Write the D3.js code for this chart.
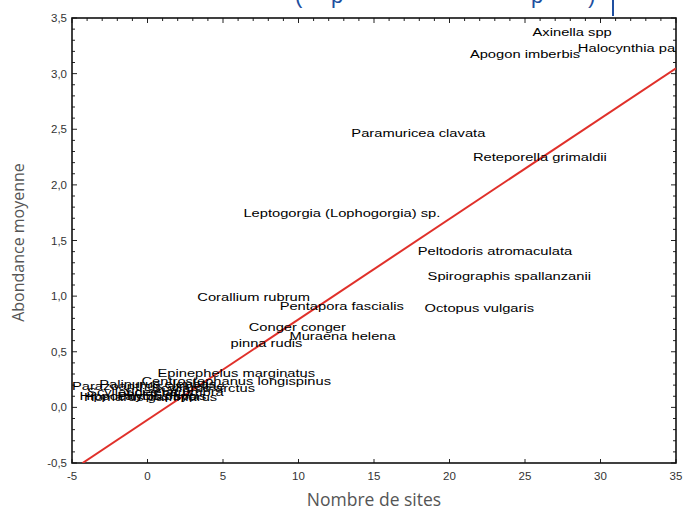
<!DOCTYPE html>
<html><head><meta charset="utf-8">
<script src="https://cdn.jsdelivr.net/npm/d3@7"></script>
<style>body{margin:0;background:#fff;overflow:hidden}</style>
</head><body><svg id="c" width="684" height="515"></svg>
<script>
const species = [
  "Axinella spp","Apogon imberbis","Halocynthia papillosa","Paramuricea clavata",
  "Reteporella grimaldii","Leptogorgia (Lophogorgia) sp.","Peltodoris atromaculata",
  "Spirographis spallanzanii","Octopus vulgaris","Corallium rubrum","Pentapora fascialis",
  "Conger conger","Muraena helena","pinna rudis","Epinephelus marginatus",
  "Centrostephanus longispinus","Scyllarus arctus","Parazoanthus axinellae",
  "Palinurus elephas","Scyllarides latus","Hippocampus spp","Homarus gammarus",
  "Sciaena umbra","Phycis phycis"
];
const sites = [25.5,21.35,28.5,13.5,21.55,6.35,17.9,18.55,18.35,3.3,8.75,6.7,9.4,5.5,0.66,-0.4,0.25,-5.0,-3.2,-4.0,-4.5,-4.2,-1.5,-2.0];
const abundance = [3.37,3.18,3.23,2.47,2.25,1.75,1.41,1.18,0.89,0.99,0.91,0.72,0.64,0.58,0.31,0.24,0.17,0.19,0.21,0.135,0.10,0.09,0.135,0.10];
const xTicks = [-5,0,5,10,15,20,25,30,35];
const yTicks = [-0.5,0,0.5,1,1.5,2,2.5,3,3.5];
const fitSlope = 0.0903, fitIntercept = -0.112;
const fmt = v => d3.format(".1f")(v).replace(".", ",").replace("−","-");

const svg = d3.select("#c");
const L = 72, R = 676, T = 18, B = 463;
const x = d3.scaleLinear().domain([-5,35]).range([L,R]);
const y = d3.scaleLinear().domain([-0.5,3.5]).range([B,T]);

// blue partial text at top (cut-off document text)
const blue = "#1f4fa0";
const bt = svg.append("g").attr("fill", blue).attr("font-family","Liberation Sans, Arial").attr("font-size",22);
[["(",295],["p",331],["p",531],[")",588]].forEach(([t,px]) => bt.append("text").attr("x",px).attr("y",3).text(t));
svg.append("line").attr("x1",613).attr("x2",613).attr("y1",0).attr("y2",16).attr("stroke",blue).attr("stroke-width",2);

svg.append("defs").append("clipPath").attr("id","clip").append("rect")
  .attr("x",L).attr("y",T).attr("width",R-L).attr("height",B-T);

// ticks
const tk = svg.append("g").attr("stroke","#222").attr("stroke-width",1);
d3.range(-0.5, 3.5001, 0.1).forEach(v => {
  const major = Math.abs(v*2 - Math.round(v*2)) < 1e-6;
  const len = major ? 5 : 3;
  tk.append("line").attr("x1",L).attr("x2",L+len).attr("y1",y(v)).attr("y2",y(v));
  tk.append("line").attr("x1",R).attr("x2",R-len).attr("y1",y(v)).attr("y2",y(v));
});
d3.range(-5, 35.001, 1).forEach(v => {
  const major = v % 5 === 0;
  tk.append("line").attr("x1",x(v)).attr("x2",x(v)).attr("y1",T).attr("y2",T+(major?5:3));
});
xTicks.forEach(v => tk.append("line").attr("x1",x(v)).attr("x2",x(v)).attr("y1",B).attr("y2",B-4));

// frame
svg.append("rect").attr("x",L).attr("y",T).attr("width",R-L).attr("height",B-T)
  .attr("fill","none").attr("stroke","#111").attr("stroke-width",1.6);

// tick labels
const tl = svg.append("g").attr("font-family","Liberation Sans, Arial").attr("font-size",11.5).attr("fill","#333");
yTicks.forEach(v => tl.append("text").attr("x",L-5).attr("y",y(v)+4).attr("text-anchor","end").text(fmt(v)));
xTicks.forEach(v => tl.append("text").attr("x",x(v)).attr("y",B+17).attr("text-anchor","middle").text(String(v)));

// axis titles
svg.append("text").attr("transform",`translate(24,${(T+B)/2+2}) rotate(-90)`).attr("text-anchor","middle")
  .attr("font-family","Open Sans").attr("font-size",16).attr("fill","#555").text("Abondance moyenne");
svg.append("text").attr("x",(L+R)/2).attr("y",506).attr("text-anchor","middle")
  .attr("font-family","Open Sans").attr("font-size",17.5).attr("fill","#555").text("Nombre de sites");

const plot = svg.append("g").attr("clip-path","url(#clip)");
// regression line
const xs = [-4.3, 35];
plot.append("path").attr("d", d3.line().x(d=>x(d)).y(d=>y(fitSlope*d+fitIntercept))(xs))
  .attr("stroke","#e0302a").attr("stroke-width",2).attr("fill","none");

// labels
const lab = plot.append("g").attr("font-family","Liberation Sans, Arial").attr("font-size",11.5).attr("fill","#000");
species.forEach((s,i) => {
  lab.append("text").attr("transform",`translate(${x(sites[i])},${y(abundance[i])+4}) scale(1.28,1)`).text(s);
});
</script></body></html>
